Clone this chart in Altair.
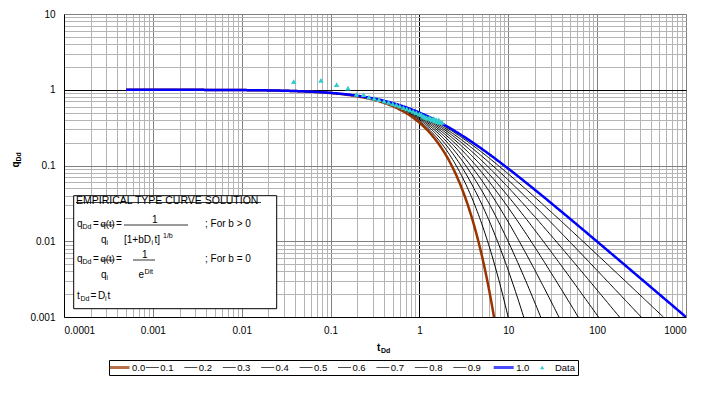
import altair as alt
import numpy as np
import pandas as pd

# ---------------- data ----------------
b_values = [0.0, 0.1, 0.2, 0.3, 0.4, 0.5, 0.6, 0.7, 0.8, 0.9, 1.0]
t_start, t_end = 0.0005, 1000.0

obs_t = [0.0385, 0.078, 0.117, 0.157, 0.195, 0.235, 0.27, 0.31, 0.35, 0.40, 0.45, 0.50,
         0.55, 0.60, 0.66, 0.72, 0.78, 0.85, 0.92, 1.0, 1.05, 1.1, 1.15, 1.2, 1.25, 1.3,
         1.35, 1.4, 1.45, 1.5, 1.55, 1.6, 1.65, 1.7, 1.75, 1.8]
obs_q = [1.28, 1.33, 1.17, 1.05, 0.87, 0.86, 0.80, 0.77, 0.74, 0.71, 0.68, 0.65,
         0.63, 0.61, 0.58, 0.56, 0.54, 0.52, 0.50, 0.48, 0.47, 0.45, 0.44, 0.43, 0.42, 0.43,
         0.41, 0.40, 0.42, 0.39, 0.40, 0.38, 0.40, 0.37, 0.38, 0.37]

legend_labels = ["0.0", "0.1", "0.2", "0.3", "0.4", "0.5", "0.6", "0.7", "0.8", "0.9", "1.0", "Data"]
legend_kind = ["thick", "thin", "thin", "thin", "thin", "thin", "thin", "thin", "thin", "thin", "thick", "data"]

x_decades = [0.0001, 0.001, 0.01, 0.1, 1, 10, 100, 1000]
y_decades = [0.001, 0.01, 0.1, 1, 10]

BROWN = "#993300"
BLUE = "#0000FF"
CYAN = "#33CCCC"
FONT = "Liberation Sans"

# Arps type curves (equations printed in the chart's text box)
t_grid = np.logspace(np.log10(t_start), np.log10(t_end), 500)
rows = []
for b in b_values:
    if b == 0:
        q = np.exp(-t_grid)
    else:
        q = (1 + b * t_grid) ** (-1.0 / b)
    idx = np.where(q >= 0.001)[0]
    if len(idx) < len(q):
        idx = np.append(idx, idx[-1] + 1)
    for i in idx:
        rows.append({"t": t_grid[i], "q": q[i], "b": b})
curves = pd.DataFrame(rows)
obs = pd.DataFrame({"t": obs_t, "q": obs_q})

x_ticks = [m * d for d in x_decades[:-1] for m in range(1, 10)] + [x_decades[-1]]
y_ticks = [m * d for d in y_decades[:-1] for m in range(1, 10)] + [y_decades[-1]]

decade_test = "abs(log(datum.value)/LN10 - round(log(datum.value)/LN10)) < 0.001"
grid_color = {
    "condition": [
        {"test": "abs(datum.value - 1) < 1e-9", "value": "#000000"},
        {"test": decade_test, "value": "#808080"},
    ],
    "value": "#b4b4b4",
}

W, H = 622, 303

x_enc = alt.X("t:Q",
              scale=alt.Scale(type="log", domain=[x_decades[0], x_decades[-1]], nice=False),
              axis=alt.Axis(values=x_ticks, title=None, ticks=False, labelOverlap=False,
                            labelExpr=f"({decade_test}) ? format(datum.value, '~g') : ''",
                            gridColor=grid_color, gridOpacity=1, labelPadding=8,
                            labelFontSize=10, labelColor="#000000", domainColor="#000000"))
y_enc = alt.Y("q:Q",
              scale=alt.Scale(type="log", domain=[y_decades[0], y_decades[-1]], nice=False),
              axis=alt.Axis(values=y_ticks, title=None, ticks=False, labelOverlap=False,
                            labelExpr=f"({decade_test}) ? format(datum.value, '~g') : ''",
                            gridColor=grid_color, gridOpacity=1, labelPadding=9,
                            labelFontSize=10, labelColor="#000000", domainColor="#000000"))

base = alt.Chart(curves)
thin = base.transform_filter("datum.b > 0 && datum.b < 1").mark_line(
    clip=True, color="#000000", strokeWidth=1).encode(x=x_enc, y=y_enc, detail="b:N")
brown = base.transform_filter("datum.b == 0").mark_line(
    clip=True, color=BROWN, strokeWidth=2.5).encode(x=x_enc, y=y_enc)
blue = base.transform_filter("datum.b == 1").mark_line(
    clip=True, color=BLUE, strokeWidth=2.5).encode(x=x_enc, y=y_enc)
pts = alt.Chart(obs).mark_point(shape="triangle-up", filled=True, color=CYAN, size=30,
                                opacity=1, clip=True).encode(x=x_enc, y=y_enc)

# ----- formula text box (annotation, pixel positions inside the plot) -----
box = alt.Chart(obs).transform_filter("datum.t == 1.0").mark_rect(
    fill="white", stroke="black", strokeWidth=1).encode(
    x=alt.value(9.7), x2=alt.value(212.7), y=alt.value(181.7), y2=alt.value(294.7))

ann_text = ["EMPIRICAL TYPE CURVE SOLUTION",
            "q", "Dd", "=", "q(t)", "=", "1", ";  For b > 0",
            "q", "i", "[1+bD", "i", "t]", "1/b",
            "q", "Dd", "=", "q(t)", "=", "1", ";  For b = 0",
            "q", "i", "e", "Dit",
            "t", "Dd", "=", "D", "i", "t"]
ann_x = [12,
         13, 18.5, 29, 36.5, 52, 88, 141,
         37, 42.5, 60, 87.5, 90.5, 99,
         13, 18.5, 29, 36.5, 52, 78, 141,
         37, 42.5, 74.5, 80.5,
         13, 16.5, 26.5, 34, 41, 43.5]
ann_y = [187,
         210, 212.5, 210, 210, 210, 206, 210,
         226, 228.5, 226, 228.5, 226, 222,
         245, 247.5, 245, 245, 245, 241, 245,
         261, 263.5, 261, 258,
         282, 284.5, 282, 282, 284.5, 282]
ann_size = [10.5,
            10, 7, 10, 9.5, 10, 10, 10,
            10, 7, 10, 7, 10, 7,
            10, 7, 10, 9.5, 10, 10, 10,
            10, 7, 10, 7,
            10, 7, 10, 10, 7, 10]
ann = pd.DataFrame({"txt": ann_text, "px": ann_x, "py": ann_y, "fs": ann_size})
box_text = alt.Chart(ann).mark_text(align="left", baseline="middle", color="black").encode(
    x=alt.X("px:Q", scale=None), y=alt.Y("py:Q", scale=None),
    text="txt:N", size=alt.Size("fs:Q", scale=None, legend=None))

rule_x1 = [12, 36.5, 60, 36.5, 69]
rule_x2 = [197, 50.5, 124, 50.5, 91]
rule_y = [188.5, 211, 211, 246, 246]
rules_df = pd.DataFrame({"rx": rule_x1, "rx2": rule_x2, "ry": rule_y})
box_rules = alt.Chart(rules_df).mark_rule(color="black", strokeWidth=0.8).encode(
    x=alt.X("rx:Q", scale=None), x2="rx2:Q", y=alt.Y("ry:Q", scale=None))

# axis titles with subscripts
title_df = pd.DataFrame({"txt": ["t", "Dd"], "px": [W / 2 + 2, W / 2 + 6], "py": [H + 31, H + 34], "fs": [10, 7]})
xt = alt.Chart(title_df).mark_text(align="left", baseline="middle", fontWeight="bold", color="black").encode(
    x=alt.X("px:Q", scale=None), y=alt.Y("py:Q", scale=None),
    text="txt:N", size=alt.Size("fs:Q", scale=None, legend=None))
ytitle_df = pd.DataFrame({"txt": ["q", "Dd"], "px": [-48, -45], "py": [H / 2 + 2, H / 2 - 4], "fs": [10, 7]})
yt = alt.Chart(ytitle_df).mark_text(align="left", baseline="middle", angle=270, fontWeight="bold", color="black").encode(
    x=alt.X("px:Q", scale=None), y=alt.Y("py:Q", scale=None),
    text="txt:N", size=alt.Size("fs:Q", scale=None, legend=None))

main = alt.layer(thin, brown, blue, pts, box, box_rules, box_text, xt, yt).properties(width=W, height=H)

# ---------------- legend row ----------------
leg = pd.DataFrame({"label": legend_labels, "kind": legend_kind,
                    "color": [BROWN] + ["#000000"] * 9 + [BLUE] + [CYAN]})
lx = alt.X("label:N", sort=legend_labels, axis=None,
           scale=alt.Scale(type="band", paddingInner=0, paddingOuter=0.104, align=0))
lb = alt.Chart(leg)
leg_thick = lb.transform_filter("datum.kind == 'thick'").mark_tick(
    orient="horizontal", size=20, thickness=3, xOffset=-8.7).encode(
    x=lx, y=alt.value(7.5), color=alt.Color("color:N", scale=None))
leg_thick_t = lb.transform_filter("datum.kind == 'thick'").mark_text(
    align="left", baseline="middle", dx=3.8, fontSize=9.5, color="black").encode(
    x=lx, y=alt.value(8), text="label:N")
leg_thin = lb.transform_filter("datum.kind == 'thin'").mark_tick(
    orient="horizontal", size=13, thickness=1, xOffset=-14.2, color="black").encode(
    x=lx, y=alt.value(7.5))
leg_thin_t = lb.transform_filter("datum.kind == 'thin'").mark_text(
    align="left", baseline="middle", dx=-6.3, fontSize=9.5, color="black").encode(
    x=lx, y=alt.value(8), text="label:N")
leg_data = lb.transform_filter("datum.kind == 'data'").mark_point(
    shape="triangle-up", filled=True, size=18, color=CYAN, opacity=1, xOffset=-8.6).encode(
    x=lx, y=alt.value(7.5))
leg_data_t = lb.transform_filter("datum.kind == 'data'").mark_text(
    align="left", baseline="middle", dx=4.1, fontSize=9.5, color="black").encode(
    x=lx, y=alt.value(8), text="label:N")
legend_panel = alt.layer(leg_thick, leg_thin, leg_data, leg_thick_t, leg_thin_t, leg_data_t).properties(
    width=469, height=15, view=alt.ViewBackground(stroke="black", strokeWidth=1))
spacer = alt.Chart(leg).mark_point(opacity=0).encode(x=alt.value(0), y=alt.value(0)).properties(
    width=44, height=15, view=alt.ViewBackground(strokeOpacity=0))

chart = alt.vconcat(main, alt.hconcat(spacer, legend_panel, spacing=0), spacing=2).properties(
    padding={"left": 2, "top": 0, "right": 5, "bottom": 2}
).configure_view(stroke="black", strokeWidth=1).configure(font=FONT)

chart.save("out.html", embed_options={"renderer": "svg", "actions": False})
